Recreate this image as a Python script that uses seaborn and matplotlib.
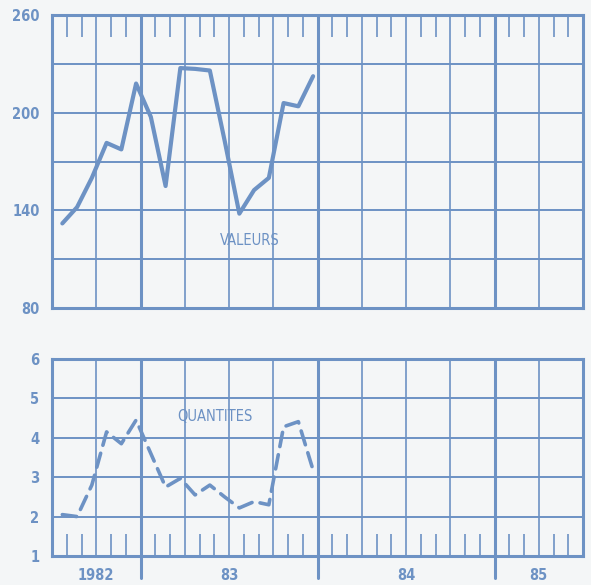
import numpy as np
import pandas as pd
import matplotlib
matplotlib.use("Agg")
import matplotlib.pyplot as plt
import seaborn as sns

# ---------------- donnees ----------------
mois = ["1982-07", "1982-08", "1982-09", "1982-10", "1982-11", "1982-12",
        "1983-01", "1983-02", "1983-03", "1983-04", "1983-05", "1983-06",
        "1983-07", "1983-08", "1983-09", "1983-10", "1983-11", "1983-12"]
valeurs = [132, 142, 160, 181.5, 177.5, 218, 197.5, 155, 227.5, 227, 226, 183,
           138, 152.5, 160, 206, 204, 222.5]
quantites = [2.05, 2.0, 2.8, 4.15, 3.85, 4.45, 3.6, 2.75, 2.97, 2.55, 2.8, 2.5,
             2.22, 2.38, 2.3, 4.28, 4.41, 3.18]
annees = ["1982", "83", "84", "85"]
yticks_val = [80, 140, 200, 260]
yticks_qte = [1, 2, 3, 4, 5, 6]

bleu = "#6d92c4"
fond = "#f4f6f7"

sns.set_style("white")
plt.rcParams['font.family'] = ['DejaVu Sans']

df = pd.DataFrame({"mois": pd.to_datetime(mois), "valeurs": valeurs, "quantites": quantites})
# axe en mois depuis juillet 1982, point place vers la fin du mois
df["x"] = (df["mois"].dt.year - 1982) * 12 + df["mois"].dt.month - 7 + 0.7

fig = plt.figure(figsize=(5.91, 5.85), dpi=100, facecolor=fond)
ax1 = fig.add_axes([0.088, 0.4735, 0.8985, 0.5005])
ax2 = fig.add_axes([0.088, 0.0496, 0.8985, 0.3367])


def habiller(ax, ylim, ystep, yticks, en_haut, prolonge):
    ax.set_facecolor(fond)
    ax.set_xlim(0, 36)
    ax.set_ylim(*ylim)
    for y in np.arange(ylim[0] + ystep, ylim[1], ystep):
        ax.axhline(y, color=bleu, lw=1.4, zorder=1)
    for x in range(3, 36, 3):
        if x in (6, 18, 30):
            ax.axvline(x, ymin=-0.11 if prolonge else 0, ymax=1, color=bleu,
                       lw=2.2, zorder=1, clip_on=False)
        else:
            ax.axvline(x, color=bleu, lw=1.2, zorder=1)
    for s in ax.spines.values():
        s.set_visible(True)
        s.set_color(bleu)
        s.set_linewidth(2.2)
    ax.set_yticks(yticks)
    ax.set_yticklabels([str(v) for v in yticks], color=bleu, fontsize=10.5,
                       fontweight="bold", fontstretch="condensed")
    ax.tick_params(axis="y", length=0, pad=9)
    ax.set_xticks([m for m in range(1, 36) if m % 3 != 0], minor=True)
    ax.tick_params(axis="x", which="minor", direction="in", length=16, width=1.2,
                   color=bleu, top=en_haut, bottom=not en_haut)
    ax.set_xlabel("")
    ax.set_ylabel("")


sns.lineplot(data=df, x="x", y="valeurs", ax=ax1, color=bleu, lw=3, zorder=3)
habiller(ax1, (80, 260), 30, yticks_val, True, False)
ax1.set_xticks([])
ax1.text(13.4, 121.8, "VALEURS", color=bleu, fontsize=10.5, ha="center", va="center",
         fontstretch="condensed")

sns.lineplot(data=df, x="x", y="quantites", ax=ax2, color=bleu, lw=2.6,
             linestyle=(0, (4, 2.3)), dash_capstyle="round", zorder=3)
habiller(ax2, (1, 6), 1, yticks_qte, False, True)
ax2.set_xticks([3, 12, 24, 33])
ax2.set_xticklabels(annees, color=bleu, fontsize=10.5, fontweight="bold",
                    fontstretch="condensed")
ax2.tick_params(axis="x", which="major", length=0, pad=9)
ax2.text(11.05, 4.53, "QUANTITES", color=bleu, fontsize=10.5, ha="center", va="center",
         fontstretch="condensed")

fig.savefig("out.png", dpi=100, facecolor=fond)
